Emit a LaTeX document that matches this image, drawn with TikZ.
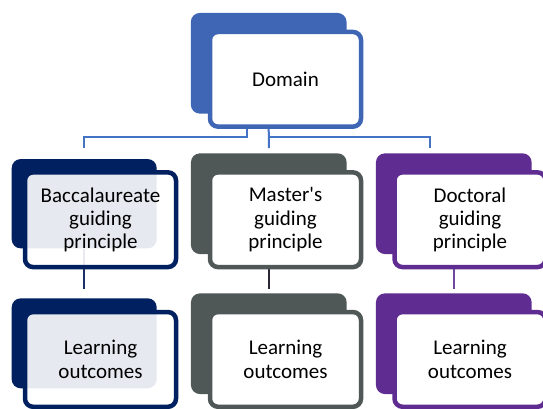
\documentclass[tikz,border=0pt]{standalone}
\usepackage{fontspec}
\setmainfont{Carlito}
\usetikzlibrary{calc}
\definecolor{domblue}{HTML}{3F65B5}
\definecolor{linkblue}{HTML}{4472C4}
\definecolor{navy}{HTML}{002060}
\definecolor{navylink}{HTML}{1B2F68}
\definecolor{slate}{HTML}{4F5757}
\definecolor{slatelink}{HTML}{2D2636}
\definecolor{docpurple}{HTML}{5F2D91}
\definecolor{docpurplelink}{HTML}{7048A0}
\tikzset{
  every picture/.style={
    line width=2pt
  },
  backcard/.style={
    rounded corners=9pt, fill=#1, minimum width=155.7pt,
    minimum height=100.7pt, inner sep=0pt
  },
  frontcard/.style={
    draw=#1, line width=4.5pt, rounded corners=8pt, fill=white,
    minimum width=151pt, minimum height=94.7pt, inner sep=0pt,
    align=center, font=\fontsize{21}{23.3}\selectfont
  }
}

\begin{document}
\begin{tikzpicture}[
      x=1pt, y=-1pt
    ]
    \useasboundingbox (0,0) rectangle (543,408);
    % back cards
    \node [backcard=domblue] (domb) at (268.7,63.3) {};
    \node [backcard=navy, minimum width=145pt, minimum height=89.3pt] (baccb) at (84.2,203.7) {};
    \node [backcard=slate] (mastb) at (268.8,203.7) {};
    \node [backcard=docpurple] (doctb) at (453.8,203.7) {};
    \node [backcard=navy, minimum width=145pt, minimum height=90pt] (baccb2) at (84.2,343.3) {};
    \node [backcard=slate] (mastb2) at (268.8,343.7) {};
    \node [backcard=docpurple] (doctb2) at (453.8,343.7) {};
    % links
    \coordinate (fork) at (268.7,137.3);
    \draw [linkblue, shorten >=10pt] ([xshift=-22pt]domb.south) |- (fork -| baccb.north) -- (baccb.north);
    \draw [linkblue, shorten >=4.3pt] (domb.south) -- (mastb.north);
    \draw [linkblue, shorten >=4.3pt] (fork) -| ([xshift=-23.8pt]doctb.north);
    \draw [navylink] (baccb.south) -- ([yshift=8pt]baccb2.north);
    \draw [slatelink] (mastb.south) -- ([yshift=3.3pt]mastb2.north);
    \draw [docpurplelink] (doctb.south) -- ([yshift=3.3pt]doctb2.north);
    % front cards
    \node [frontcard=domblue] (domf) at (285.5,79.3) {Domain};
    \node [frontcard=navy, fill opacity=0.9, text opacity=1] (baccf) at (100.5,219.7) {Baccalaureate\\guiding\\principle};
    \node [frontcard=slate] (mastf) at (285.5,219.7) {Master\textquotesingle s\\guiding\\principle};
    \node [frontcard=docpurple] (doctf) at (470,219.7) {Doctoral\\guiding\\principle};
    \node [frontcard=navy, fill opacity=0.9, text opacity=1] (baccf2) at (100.5,359.4) {Learning\\outcomes};
    \node [frontcard=slate] (mastf2) at (285.5,359.4) {Learning\\outcomes};
    \node [frontcard=docpurple] (doctf2) at (470,359.4) {Learning\\outcomes};
  \end{tikzpicture}
\end{document}
